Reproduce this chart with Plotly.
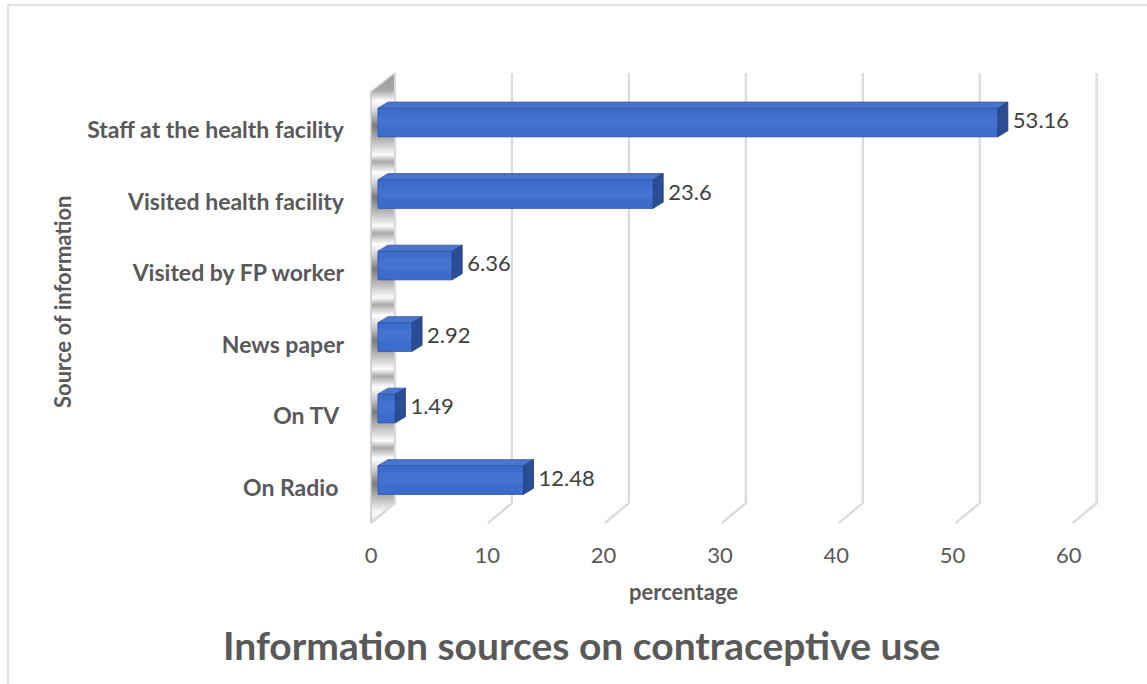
import plotly.graph_objects as go

# Survey answers: where respondents heard about contraceptive use (percent)
categories = [
    "On Radio ",
    "On TV ",
    "News paper",
    "Visited by FP worker",
    "Visited health facility",
    "Staff at the health facility",
]
percentages = [12.48, 1.49, 2.92, 6.36, 23.6, 53.16]
x_ticks = [0, 10, 20, 30, 40, 50, 60]
x_tick_labels = ["0", "10", "20", "30", "40", "50", "60"]

TEXT = "#595959"
FONT = "Lato"

# pseudo-3D geometry (axis units)
BAR_W = 0.40           # thickness of the bar front face
DEPTH_X = 0.86         # receding depth of a bar along x
DEPTH_Y = 0.085        # receding depth of a bar along y
WALL_DX = 1.458        # back-wall offset of the value axis
FLOOR_DX = 2.06        # floor edge length along x
WALL_TOP = 5.692
WALL_FRONT_TOP = 5.427
FLOOR_BACK = -0.322
FLOOR_FRONT = -0.601
FRONT_X = -0.60

idx = list(range(len(categories)))

fig = go.Figure()

# side wall with a metallic vertical gradient
y0, y1 = FLOOR_FRONT, WALL_TOP
span = y1 - y0
pts = [(y0, "#e4e4e4")]
for i in idx:
    for off, col in [(-0.45, "#fbfbfb"), (-0.25, "#b8b8b8"), (-0.05, "#7a7a7a"),
                     (0.15, "#d2d2d2"), (0.30, "#ffffff"), (0.45, "#a8a8a8")]:
        y = i + off
        if y0 < y < y1:
            pts.append((y, col))
pts.append((y1, "#9a9a9a"))
pts.sort()
colorscale = [[(y - y0) / span, c] for y, c in pts]
fig.add_trace(go.Scatter(
    x=[FRONT_X, WALL_DX, WALL_DX, FRONT_X, FRONT_X],
    y=[WALL_FRONT_TOP, WALL_TOP, FLOOR_BACK, FLOOR_FRONT, WALL_FRONT_TOP],
    mode="lines", fill="toself",
    fillgradient=dict(type="vertical", colorscale=colorscale, start=y0, stop=y1),
    line=dict(color="#c8c8c8", width=1.5),
    hoverinfo="skip", showlegend=False,
))

# back-wall gridlines with their floor edges
for t in x_ticks:
    gx = WALL_DX + 1.003 * t
    for w, c in [(2.2, "#cdcdcd"), (0.7, "#f4f4f4")]:
        fig.add_trace(go.Scatter(
            x=[gx - FLOOR_DX, gx, gx], y=[FLOOR_FRONT, FLOOR_BACK, WALL_TOP],
            mode="lines", line=dict(color=c, width=w),
            hoverinfo="skip", showlegend=False,
        ))

# bars on an overlaid axis so they sit above the wall
fig.add_trace(go.Bar(
    x=percentages, y=idx, orientation="h", width=BAR_W,
    marker=dict(color="#3d6dcc", line=dict(color="#2f58ab", width=1)),
    xaxis="x2", yaxis="y2", hoverinfo="skip", showlegend=False,
))
for i, v in zip(idx, percentages):
    top = i + BAR_W / 2
    bot = i - BAR_W / 2
    # top face
    fig.add_trace(go.Scatter(
        x=[0, v, v + DEPTH_X, DEPTH_X, 0],
        y=[top, top, top + DEPTH_Y, top + DEPTH_Y, top],
        mode="lines", fill="toself", fillcolor="#4775cf",
        line=dict(color="#34589f", width=0.8),
        xaxis="x2", yaxis="y2", hoverinfo="skip", showlegend=False,
    ))
    # end face
    fig.add_trace(go.Scatter(
        x=[v, v + DEPTH_X, v + DEPTH_X, v, v],
        y=[bot, bot + DEPTH_Y, top + DEPTH_Y, top, bot],
        mode="lines", fill="toself", fillcolor="#2b4d95",
        line=dict(color="#233f7c", width=0.8),
        xaxis="x2", yaxis="y2", hoverinfo="skip", showlegend=False,
    ))
    # soft highlight across the front face
    fig.add_trace(go.Scatter(
        x=[0, v, v, 0, 0],
        y=[i - 0.06, i - 0.06, i + 0.1, i + 0.1, i - 0.06],
        mode="lines", fill="toself", fillcolor="rgba(100,140,225,0.18)",
        line=dict(width=0),
        xaxis="x2", yaxis="y2", hoverinfo="skip", showlegend=False,
    ))

# value labels
fig.add_trace(go.Scatter(
    x=[v + 1.29 for v in percentages], y=idx,
    mode="text", text=[str(v) for v in percentages],
    textposition="middle right",
    textfont=dict(family=FONT, size=22, color="#404040"),
    xaxis="x2", yaxis="y2", hoverinfo="skip", showlegend=False,
))

XR = [-1.973, 62.78]
YR = [-0.699, 5.874]

fig.update_layout(
    width=1147, height=684,
    margin=dict(l=355, r=37, t=60, b=154),
    paper_bgcolor="white", plot_bgcolor="rgba(0,0,0,0)",
    xaxis=dict(
        range=XR, showgrid=False, zeroline=False, showline=False,
        tickmode="array",
        tickvals=[t - 0.6 - 0.0025 * t for t in x_ticks],
        ticktext=x_tick_labels,
        tickfont=dict(family=FONT, size=22, color=TEXT),
        ticklabelstandoff=10,
    ),
    yaxis=dict(
        range=YR, showgrid=False, zeroline=False, showline=False,
        tickmode="array",
        tickvals=[i - 0.11 for i in idx],
        ticktext=categories,
        tickfont=dict(family=FONT, size=23, color=TEXT, weight="bold"),
        ticklabelstandoff=10,
    ),
    xaxis2=dict(range=XR, overlaying="x", visible=False),
    yaxis2=dict(range=YR, overlaying="y", visible=False),
    annotations=[
        dict(text="percentage", xref="paper", yref="paper",
             x=(683 - 355) / 755, y=(530 - 591) / 470,
             showarrow=False, xanchor="center", yanchor="middle",
             font=dict(family=FONT, size=22, color=TEXT, weight="bold")),
        dict(text="Source of information", xref="paper", yref="paper",
             x=(62 - 355) / 755, y=(530 - 302) / 470, textangle=-90,
             showarrow=False, xanchor="center", yanchor="middle",
             font=dict(family=FONT, size=22, color=TEXT, weight="bold")),
        dict(text="Information sources on contraceptive use",
             xref="paper", yref="paper",
             x=(581 - 355) / 755, y=(530 - 645) / 470,
             showarrow=False, xanchor="center", yanchor="middle",
             font=dict(family=FONT, size=39, color=TEXT, weight="bold")),
    ],
    shapes=[
        dict(type="rect", xref="paper", yref="paper",
             x0=(8 - 355) / 755, y0=(530 - 5) / 470, x1=2, y1=-2,
             line=dict(color="#d9d9d9", width=1.5), layer="below"),
    ],
)

fig.write_html("out.html")
